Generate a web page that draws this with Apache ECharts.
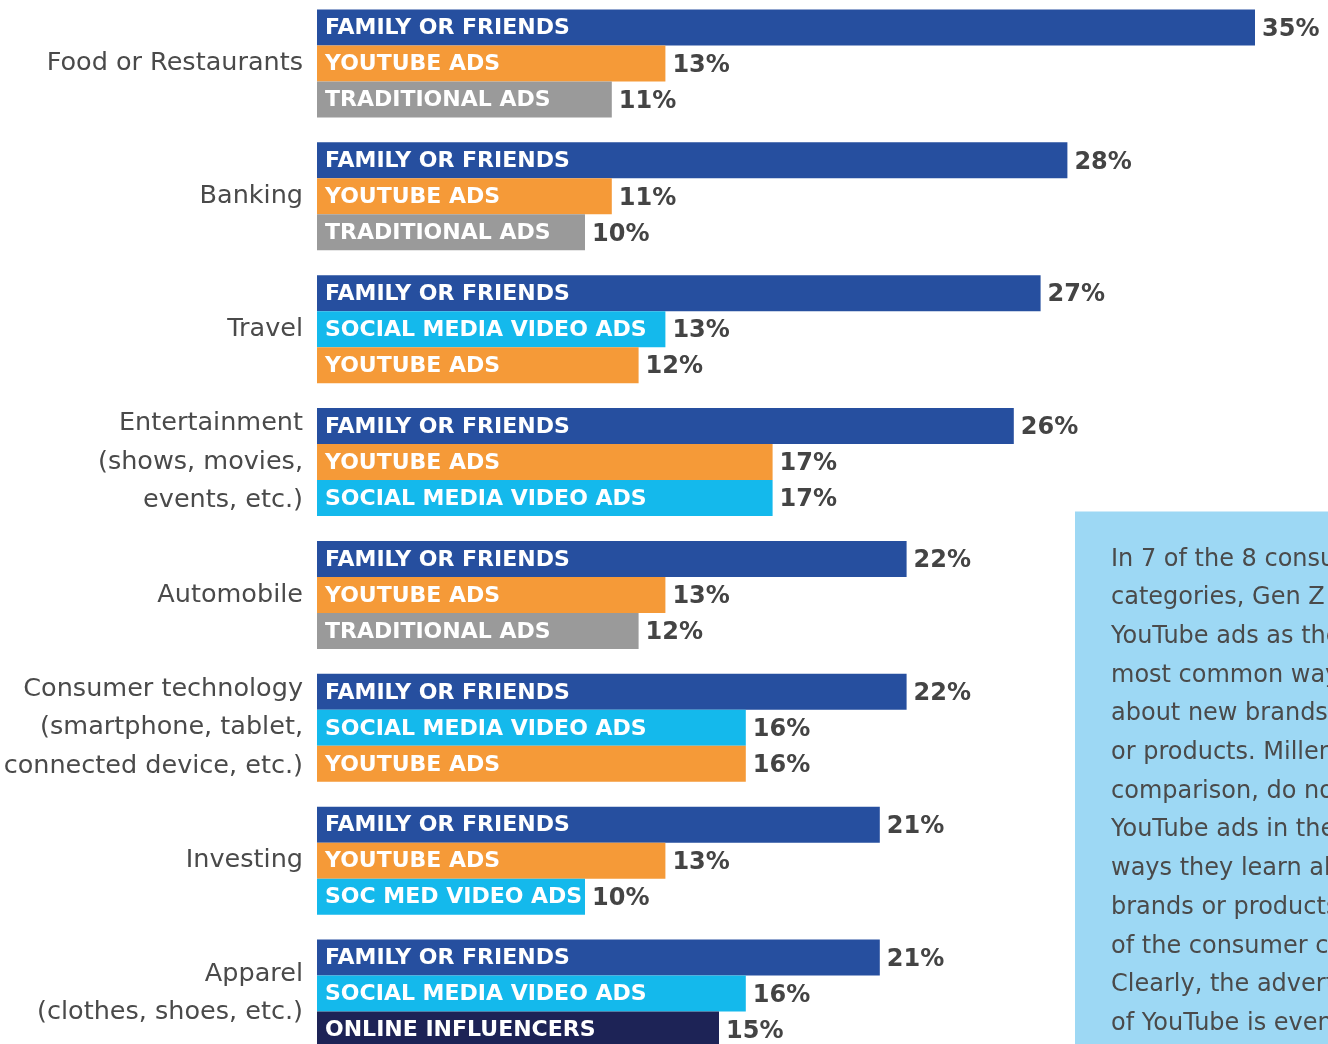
<!DOCTYPE html>
<html>
<head>
<meta charset="utf-8">
<script src="https://cdn.jsdelivr.net/npm/echarts@6/dist/echarts.min.js"></script>
<style>
html,body{margin:0;padding:0;background:#fff;overflow:hidden;width:1328px;height:1044px;position:relative;}
#chart{position:absolute;left:0;top:-3.4px;width:1389px;height:1063px;}
</style>
</head>
<body>
<div id="chart"></div>
<script>
// ---- data ----
const categories = [
  'Food or Restaurants',
  'Banking',
  'Travel',
  'Entertainment\n(shows, movies,\nevents, etc.)',
  'Automobile',
  'Consumer technology\n(smartphone, tablet,\nconnected device, etc.)',
  'Investing',
  'Apparel\n(clothes, shoes, etc.)'
];
const firstNames = ['FAMILY OR FRIENDS','FAMILY OR FRIENDS','FAMILY OR FRIENDS','FAMILY OR FRIENDS','FAMILY OR FRIENDS','FAMILY OR FRIENDS','FAMILY OR FRIENDS','FAMILY OR FRIENDS'];
const firstValues = [35, 28, 27, 26, 22, 22, 21, 21];
const secondNames = ['YOUTUBE ADS','YOUTUBE ADS','SOCIAL MEDIA VIDEO ADS','YOUTUBE ADS','YOUTUBE ADS','SOCIAL MEDIA VIDEO ADS','YOUTUBE ADS','SOCIAL MEDIA VIDEO ADS'];
const secondValues = [13, 11, 13, 17, 13, 16, 13, 16];
const thirdNames = ['TRADITIONAL ADS','TRADITIONAL ADS','YOUTUBE ADS','SOCIAL MEDIA VIDEO ADS','TRADITIONAL ADS','YOUTUBE ADS','SOC MED VIDEO ADS','ONLINE INFLUENCERS'];
const thirdValues = [11, 10, 12, 17, 12, 16, 10, 15];
const noteLines = [
  'In 7 of the 8 consumer',
  'categories, Gen Z cite',
  'YouTube ads as the',
  'most common way to learn',
  'about new brands',
  'or products. Millennials, by',
  'comparison, do not list',
  'YouTube ads in the top',
  'ways they learn about new',
  'brands or products in any',
  'of the consumer categories.',
  'Clearly, the advertising power',
  'of YouTube is even greater'
];

// ---- styles ----
const sourceColors = {
  'FAMILY OR FRIENDS': '#264f9f',
  'YOUTUBE ADS': '#f59a38',
  'TRADITIONAL ADS': '#9a9a9a',
  'SOCIAL MEDIA VIDEO ADS': '#14b9ec',
  'SOC MED VIDEO ADS': '#14b9ec',
  'ONLINE INFLUENCERS': '#1d2356'
};
const BAR_H = 36;
const FONT = 'DejaVu Sans';
const textColor = '#444444';

function makeSeries(slot, names, values) {
  return {
    type: 'custom',
    coordinateSystem: 'cartesian2d',
    data: values.map((v, i) => [v, i]),
    renderItem: function (params, api) {
      const v = api.value(0);
      const c = api.value(1);
      const p0 = api.coord([0, c]);
      const p1 = api.coord([v, c]);
      const y0 = p0[1] - 1.5 * BAR_H + slot * BAR_H;
      const name = names[params.dataIndex];
      return {
        type: 'group',
        children: [
          { type: 'rect', shape: { x: p0[0], y: y0, width: p1[0] - p0[0], height: BAR_H },
            style: { fill: sourceColors[name] } },
          { type: 'text', x: p0[0] + 8, y: y0 + BAR_H / 2 + 1,
            style: { text: name, fill: '#ffffff', fontFamily: FONT, fontWeight: 'bold', fontSize: 22,
                     align: 'left', verticalAlign: 'middle' } },
          { type: 'text', x: p1[0] + 7, y: y0 + BAR_H / 2 + 2,
            style: { text: v + '%', fill: textColor, fontFamily: FONT, fontWeight: 'bold', fontSize: 24,
                     align: 'left', verticalAlign: 'middle' } }
        ]
      };
    }
  };
}

const chart = echarts.init(document.getElementById('chart'), null, { renderer: 'canvas' });
chart.setOption({
  animation: false,
  backgroundColor: '#ffffff',
  grid: { left: 317, top: 0, width: 1072, height: 1063, containLabel: false },
  xAxis: { type: 'value', min: 0, max: 40, show: false },
  yAxis: {
    type: 'category', inverse: true, data: categories,
    axisLine: { show: false }, axisTick: { show: false }, splitLine: { show: false },
    axisLabel: { margin: 14, fontFamily: FONT, fontSize: 25.5, lineHeight: 38.6, color: '#4a4a4a', align: 'right',
                 padding: [4, 0, 0, 0] }
  },
  graphic: [
    { type: 'rect', left: 1075, top: 514.4, shape: { width: 320, height: 600 }, style: { fill: '#9dd8f4' }, z: 10 },
    { type: 'text', left: 1111, top: 543, z: 11,
      style: { text: noteLines.join('\n'), fontFamily: FONT, fontSize: 24, lineHeight: 38.7, fill: '#4a4a4a' } }
  ],
  series: [
    makeSeries(0, firstNames, firstValues),
    makeSeries(1, secondNames, secondValues),
    makeSeries(2, thirdNames, thirdValues)
  ]
});
</script>
</body>
</html>
